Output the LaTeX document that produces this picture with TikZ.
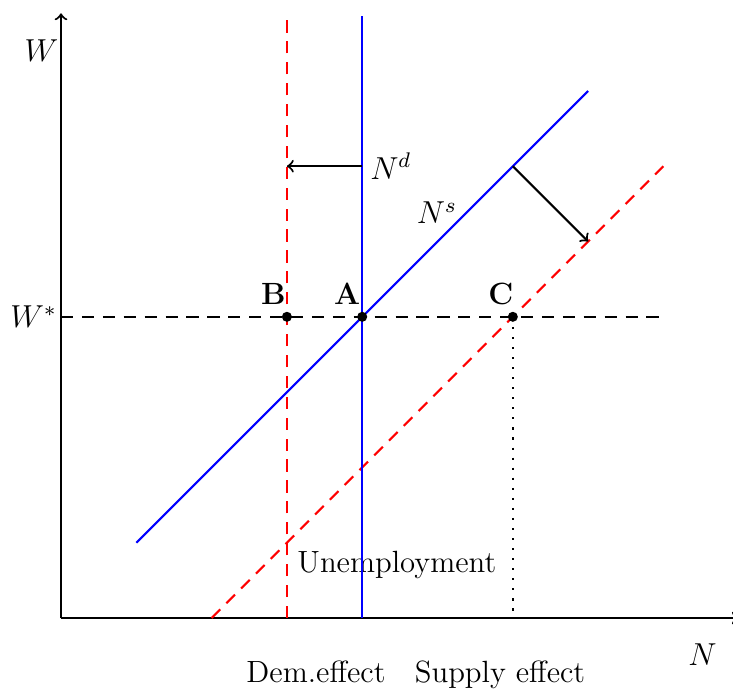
\documentclass[tikz,border=0pt]{standalone}
\usetikzlibrary{arrows}
\tikzset{
  every node/.style={font=\fontsize{11.6pt}{13pt}\selectfont, inner sep=0pt},
  base line/.style={line width=0.8pt},
  dashline/.style={base line, dash pattern=on 4.6pt off 3.3pt},
  dotline/.style={line width=0.8pt, dash pattern=on 0.8pt off 3pt},
  ptdot/.style={circle, fill=black, minimum size=3.8pt, inner sep=0pt},
  ptlab/.style={anchor=base, font=\fontsize{11.6pt}{13pt}\selectfont\bfseries},
}
\begin{document}
\begin{tikzpicture}
\useasboundingbox (-0.81,-0.943) rectangle (8.924,8.207);
% reference coordinates
\coordinate (O) at (0,0);
\coordinate (Xend) at (9,0);
\coordinate (Yend) at (0,8.03);
\coordinate (Hl) at (0,4);
\coordinate (Hr) at (8,4);
\coordinate (S1) at (1,1);
\coordinate (S2) at (7,7);
\coordinate (T1) at (2,0);
\coordinate (T2) at (8,6);
\coordinate (D0) at (4,0);
\coordinate (D1) at (4,8);
\coordinate (E0) at (3,0);
\coordinate (E1) at (3,8);
\coordinate (C0) at (6,0);
\coordinate (ArrA) at (4,6);
\coordinate (ArrB) at (3,6);
\coordinate (ArrC) at (6,6);
\coordinate (ArrD) at (7,5);
% text under lines
\node[anchor=base] (unemp) at (4.46,0.598) {Unemployment};
% axes
\draw[base line,->] (O) -- (Xend);
\draw[base line,->] (O) -- (Yend);
% W* line
\draw[dashline] (Hl) -- (Hr);
% supply curves
\draw[base line, blue] (S1) -- (S2);
\draw[dashline, red] (T1) -- (T2);
% demand verticals
\draw[base line, blue] (D0) -- (D1);
\draw[dashline, red] (E0) -- (E1);
% dotted
\draw[dotline] (6,4) -- (C0);
% arrows
\draw[base line,->] (ArrA) -- (ArrB);
\draw[base line,->] (ArrC) -- (ArrD);
% points
\node[ptdot] (B) at (3,4) {};
\node[ptdot] (A) at (4,4) {};
\node[ptdot] (C) at (6,4) {};
\node[ptlab] (Blab) at (2.82,4.16) {B};
\node[ptlab] (Alab) at (3.80,4.16) {A};
\node[ptlab] (Clab) at (5.84,4.16) {C};
% labels
\node (Wlab) at (-0.26,7.53) {$W$};
\node (Wslab) at (-0.365,4.0) {$W^*$};
\node (Nlab) at (8.52,-0.485) {$N$};
\node[anchor=west] (Ndlab) at (4.1,6.0) {$N^d$};
\node (Nslab) at (4.99,5.38) {$N^s$};
\node[anchor=base] (dem) at (3.386,-0.85) {Dem.effect};
\node[anchor=base] (sup) at (5.83,-0.85) {Supply effect};
\end{tikzpicture}
\end{document}
